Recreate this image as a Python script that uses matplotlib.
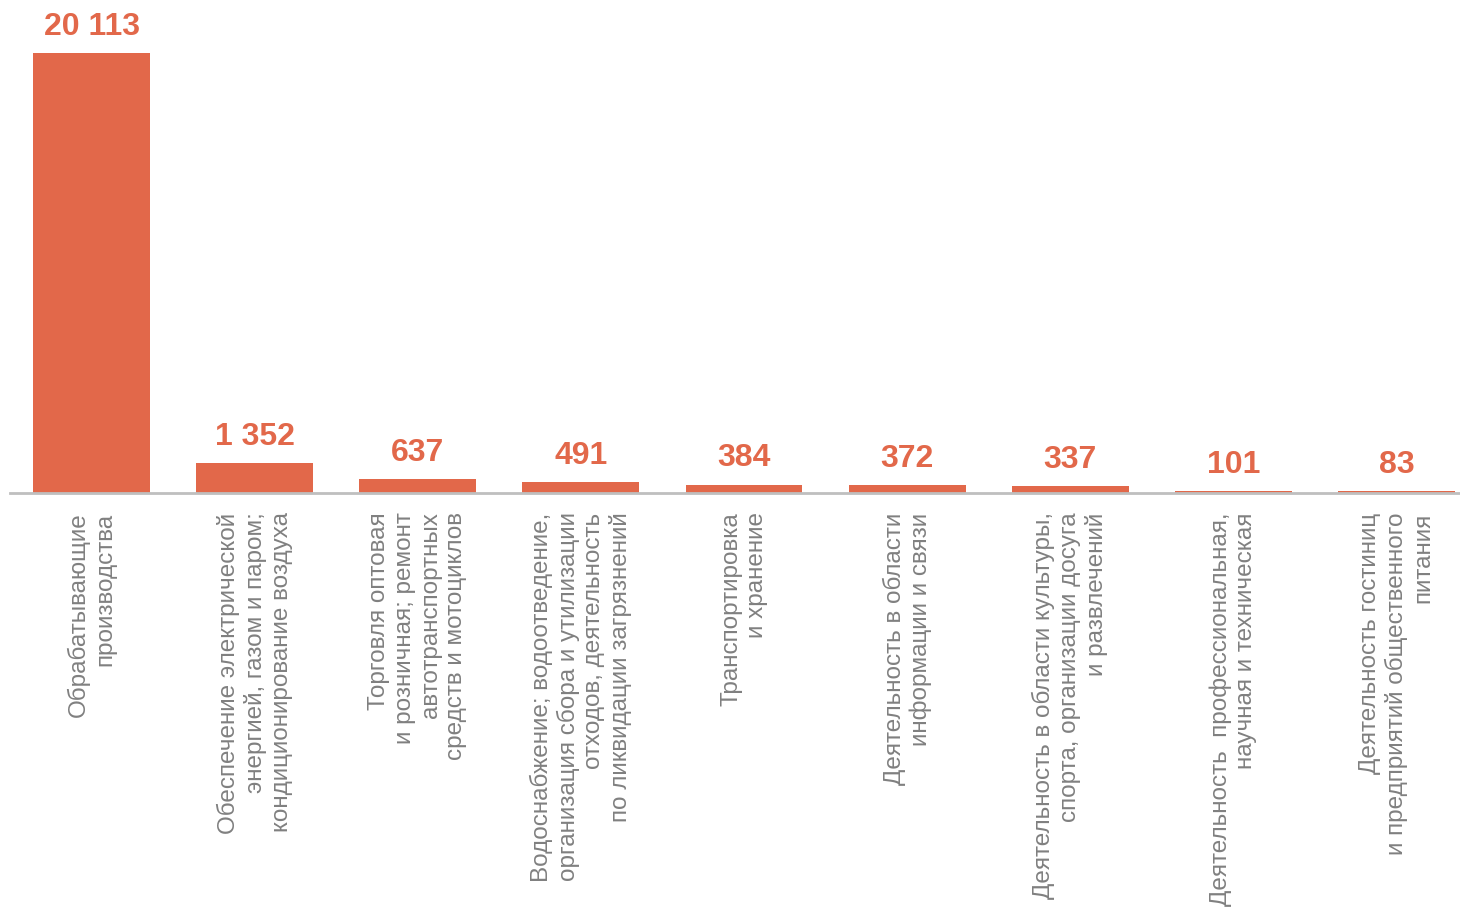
import matplotlib.pyplot as plt

categories = [
    'Обрабатывающие\nпроизводства',
    'Обеспечение электрической\nэнергией, газом и паром;\nкондиционирование воздуха',
    'Торговля оптовая\nи розничная; ремонт\nавтотранспортных\nсредств и мотоциклов',
    'Водоснабжение; водоотведение,\nорганизация сбора и утилизации\nотходов, деятельность\nпо ликвидации загрязнений',
    'Транспортировка\nи хранение',
    'Деятельность в области\nинформации и связи',
    'Деятельность в области культуры,\nспорта, организации досуга\nи развлечений',
    'Деятельность  профессиональная,\nнаучная и техническая',
    'Деятельность гостиниц\nи предприятий общественного\nпитания',
]
values = [20113, 1352, 637, 491, 384, 372, 337, 101, 83]
value_labels = ['20 113', '1 352', '637', '491', '384', '372', '337', '101', '83']

bar_color = '#E2684A'

plt.rcParams['font.family'] = ['Liberation Sans', 'DejaVu Sans']

fig = plt.figure(figsize=(14.6, 9.08), dpi=100)
ax = fig.add_axes([10 / 1460, 1 - 493 / 908, 1468 / 1460, 440 / 908])

x = list(range(len(values)))
ax.bar(x, values, width=0.717, color=bar_color)

for xi, v, lab in zip(x, values, value_labels):
    ax.annotate(lab, (xi, v), xytext=(0, 8), textcoords='offset points',
                ha='center', va='bottom', fontsize=23, fontweight='bold',
                color=bar_color, annotation_clip=False)

ax.set_xlim(-0.5, 8.5)
ax.set_ylim(0, 20113)
ax.set_xticks(x)
ax.set_xticklabels(categories, rotation=90, ha='center', va='top',
                   multialignment='right', fontsize=17.5, color='#808080',
                   linespacing=1.22)
ax.tick_params(axis='x', length=0, pad=14)
ax.set_yticks([])
for s in ['top', 'right', 'left']:
    ax.spines[s].set_visible(False)
ax.spines['bottom'].set_color('#BFBFBF')
ax.spines['bottom'].set_linewidth(2)

plt.savefig('out.png', dpi=100)
